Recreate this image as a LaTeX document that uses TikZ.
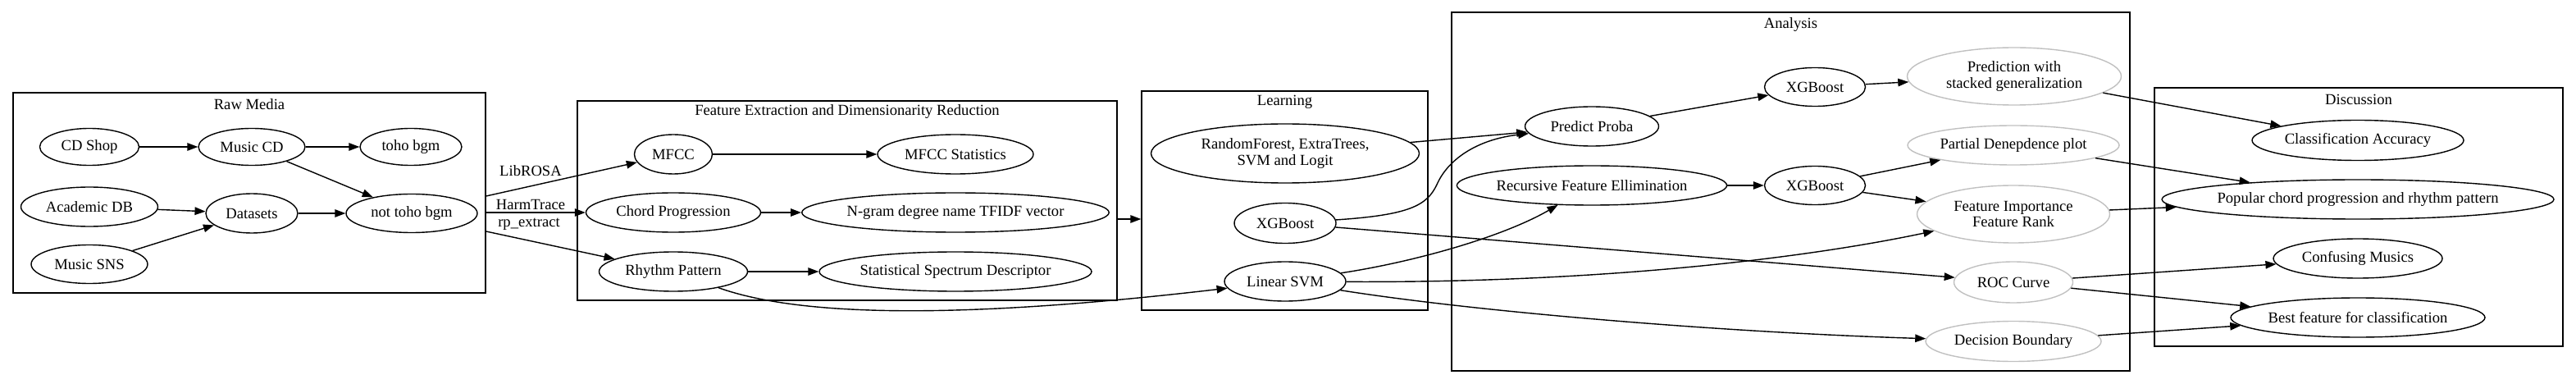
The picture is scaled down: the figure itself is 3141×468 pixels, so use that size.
\documentclass[tikz,border=0pt]{standalone}
\usepackage{fontspec}
\setmainfont{Liberation Serif}
\usepackage{tikz}
\usetikzlibrary{arrows.meta,shapes.geometric,calc}
\definecolor{gvgray}{RGB}{192,192,192}

\begin{document}
\begin{tikzpicture}[x=1bp, y=-1bp,
	every node/.style={font=\fontsize{18.7}{20}\selectfont},
	clus/.style={draw=black, line width=1.4bp, rectangle, inner sep=0pt},
	oval/.style={draw=black, line width=1.4bp, ellipse, inner sep=0pt, minimum height=48bp, align=center},
	grayoval/.style={oval, draw=gvgray},
	lbl/.style={inner sep=0pt},
	conn/.style={line width=1.4bp, -{Triangle[length=13bp,width=9.5bp]}}]
		%%%%% START %%%%%
		\useasboundingbox (0,0) rectangle (3141,468);
		
		% clusters
		\node[clus, minimum width=576bp, minimum height=244bp] (raw) at (304,235) {};
		\node[lbl] at ([yshift=-15bp]raw.north) {Raw Media};
		\node[clus, minimum width=658bp, minimum height=243bp] (fe) at (1033,244.5) {};
		\node[lbl] at ([yshift=-14bp]fe.north) {Feature Extraction and Dimensionarity Reduction};
		\node[clus, minimum width=349bp, minimum height=267bp] (lrn) at (1566.5,244.5) {};
		\node[lbl] at ([yshift=-14bp]lrn.north) {Learning};
		\node[clus, minimum width=827bp, minimum height=437bp] (ana) at (2183.5,233.5) {};
		\node[lbl] at ([yshift=-16bp]ana.north) {Analysis};
		\node[clus, minimum width=498bp, minimum height=315bp] (dis) at (2876,264.5) {};
		\node[lbl] at ([yshift=-15bp]dis.north) {Discussion};
		
		% raw media
		\node[oval, minimum width=121bp, minimum height=45bp] (shop) at (109,179) {CD Shop};
		\node[oval, minimum width=130bp, minimum height=45bp] (mcd) at (307,179) {Music CD};
		\node[oval, minimum width=124bp, minimum height=45bp] (toho) at (501,179) {toho bgm};
		\node[oval, minimum width=167bp] (acad) at (109,252) {Academic DB};
		\node[oval, minimum width=112bp] (dsets) at (307,260) {Datasets};
		\node[oval, minimum width=160bp, minimum height=47bp] (ntb) at (502,260) {not toho bgm};
		\node[oval, minimum width=142bp, minimum height=47bp] (sns) at (109,322) {Music SNS};
		
		\draw[conn] (shop) -- (mcd);
		\draw[conn] (mcd) -- (toho);
		\draw[conn] (mcd) -- (ntb);
		\draw[conn] (acad) -- (dsets);
		\draw[conn] (sns) -- (dsets);
		\draw[conn] (dsets) -- (ntb);
		
		% feature extraction
		\node[oval, minimum width=95bp] (mfcc) at (821,188) {MFCC};
		\node[oval, minimum width=190bp] (mstat) at (1165,188) {MFCC Statistics};
		\node[oval, minimum width=213bp] (chord) at (821,259) {Chord Progression};
		\node[oval, minimum width=373bp] (ngram) at (1165,259) {N-gram degree name TFIDF vector};
		\node[oval, minimum width=181bp] (rhy) at (821,331) {Rhythm Pattern};
		\node[oval, minimum width=332bp] (ssd) at (1165,331) {Statistical Spectrum Descriptor};
		
		\draw[conn] ($(raw.east)+(0,4)$) -- (mfcc);
		\draw[conn] (raw.east |- chord) -- (chord);
		\draw[conn] ($(raw.east)+(0,47)$) -- (rhy);
		\node[lbl] (librosa) at (647,208) {LibROSA};
		\node[lbl] (harm) at (647,249) {HarmTrace};
		\node[lbl] (rpx) at (645,273) {rp\_extract};
		
		\draw[conn] (mfcc) -- (mstat);
		\draw[conn] (chord) -- (ngram);
		\draw[conn] (rhy) -- (ssd);
		
		\draw[conn] ([yshift=-22.5bp]fe.east) -- ([yshift=-22.5bp]lrn.west);
		
		% learning
		\node[oval, minimum width=327bp, minimum height=72bp] (rf) at (1567,187) {RandomForest, ExtraTrees,\\SVM and Logit};
		\node[oval, minimum width=124bp, minimum height=49bp] (xgbL) at (1567,272) {XGBoost};
		\node[oval, minimum width=148bp] (lsvm) at (1567,343) {Linear SVM};
		
		\draw[conn] (rhy) .. controls (1000,395) and (1250,380) .. (lsvm);
		
		% analysis
		\node[oval, minimum width=163bp] (pp) at (1941,154) {Predict Proba};
		\node[oval, minimum width=123bp, minimum height=47bp] (xgbA) at (2213,106) {XGBoost};
		\node[grayoval, minimum width=261bp, minimum height=70bp] (psg) at (2456,93) {Prediction with\\stacked generalization};
		\node[grayoval, minimum width=258bp] (pdp) at (2455,177) {Partial Denepdence plot};
		\node[oval, minimum width=321bp] (rfe) at (1941,226) {Recursive Feature Ellimination};
		\node[oval, minimum width=123bp, minimum height=47bp] (xgbB) at (2213,226) {XGBoost};
		\node[grayoval, minimum width=235bp, minimum height=70bp] (fi) at (2455,261) {Feature Importance\\Feature Rank};
		\node[grayoval, minimum width=145bp, minimum height=50bp] (roc) at (2455,344) {ROC Curve};
		\node[grayoval, minimum width=214bp, minimum height=49bp] (db) at (2455,416) {Decision Boundary};
		
		\draw[conn] (rf) -- (pp);
		\draw[conn] (xgbL) .. controls (1720,262) and (1740,250) .. (1752,225) .. controls (1765,195) and (1800,170) .. (pp);
		\draw[conn] (xgbL) -- (roc);
		\draw[conn] (lsvm) .. controls (1720,320) and (1830,290) .. (rfe);
		\draw[conn] (lsvm) .. controls (1950,345) and (2200,315) .. (fi);
		\draw[conn] (lsvm) .. controls (1800,380) and (2100,405) .. (db);
		
		\draw[conn] (pp) -- (xgbA);
		\draw[conn] (xgbA) -- (psg);
		\draw[conn] (rfe) -- (xgbB);
		\draw[conn] (xgbB) -- (pdp);
		\draw[conn] (xgbB) -- (fi);
		
		% discussion
		\node[oval, minimum width=258bp, minimum height=49bp] (ca) at (2875,171) {Classification Accuracy};
		\node[oval, minimum width=478bp, inner xsep=-3.5bp] (pop) at (2875,243) {Popular chord progression and rhythm pattern};
		\node[oval, minimum width=206bp] (cm) at (2875,315) {Confusing Musics};
		\node[oval, minimum width=310bp] (best) at (2875,387) {Best feature for classification};
		
		\draw[conn] (psg) -- (ca);
		\draw[conn] (pdp) -- (pop);
		\draw[conn] (fi) -- (pop);
		\draw[conn] (roc) -- (cm);
		\draw[conn] (roc) -- (best);
		\draw[conn] (db) -- (best);
		
		%%%%% END %%%%%
\end{tikzpicture}
\end{document}
